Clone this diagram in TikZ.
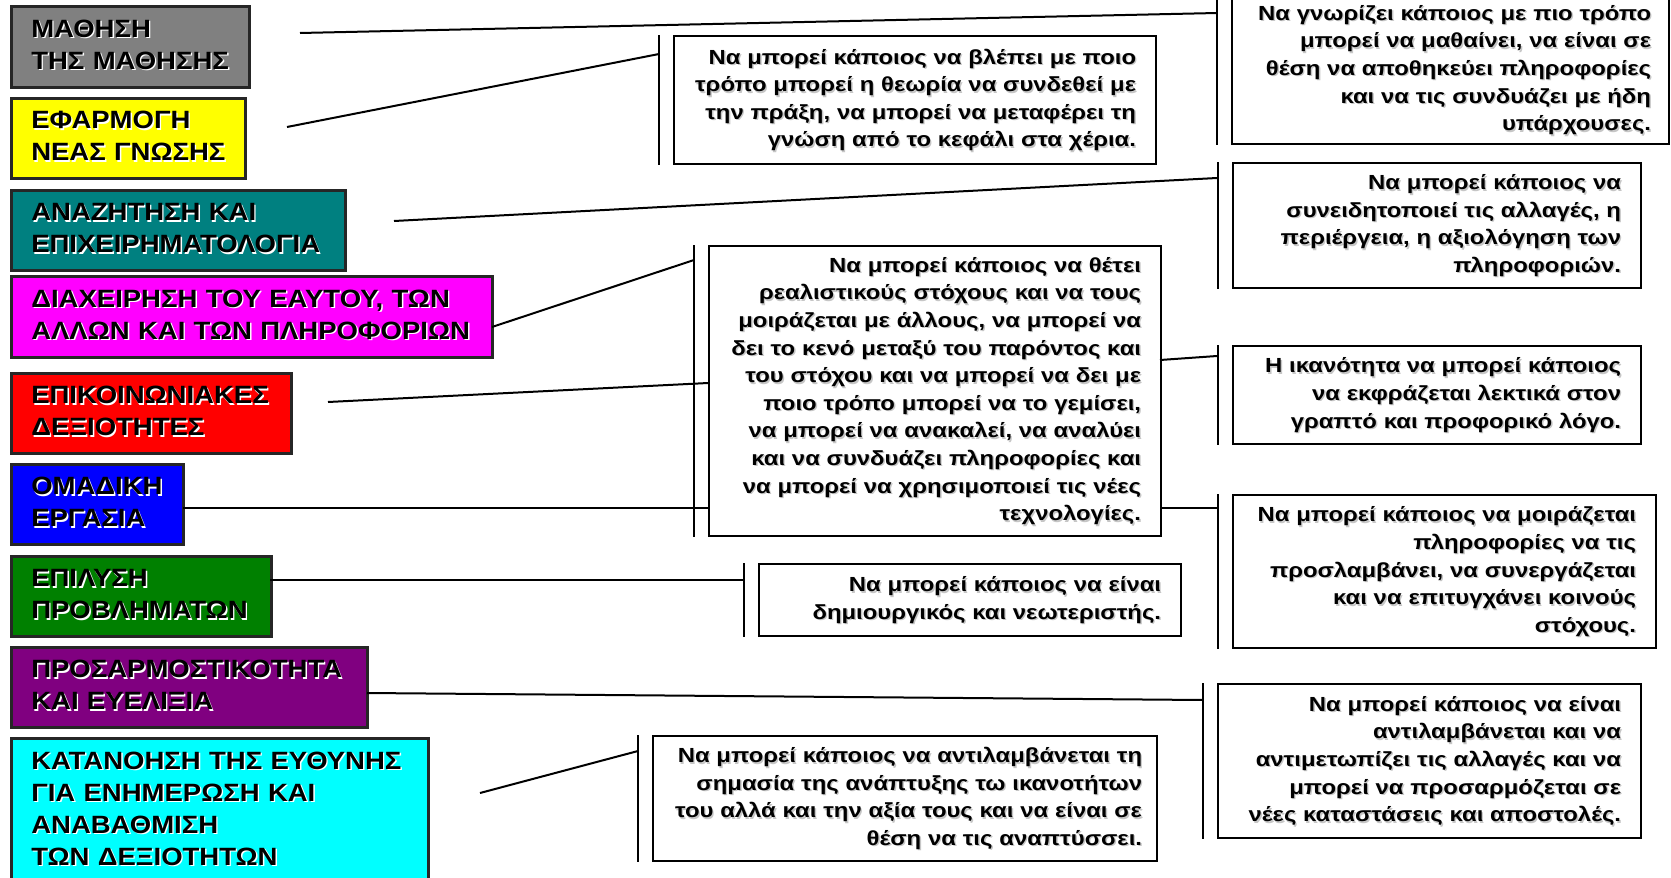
\documentclass[tikz,border=0pt]{standalone}
\usepackage{fontspec}
\setmainfont{Liberation Sans}[BoldFont={Liberation Sans Bold}]
\newfontfamily\titlefont{Liberation Sans}[BoldFont={Liberation Sans Bold},FakeStretch=1.1]
\newfontfamily\descrfont{Liberation Sans}[BoldFont={Liberation Sans Bold},FakeStretch=1.17]
\definecolor{boxgray}{HTML}{808080}
\definecolor{boxyellow}{HTML}{FFFF00}
\definecolor{boxteal}{HTML}{008080}
\definecolor{boxmagenta}{HTML}{FF00FF}
\definecolor{boxred}{HTML}{FF0000}
\definecolor{boxblue}{HTML}{0000FF}
\definecolor{boxgreen}{HTML}{008000}
\definecolor{boxpurple}{HTML}{800080}
\definecolor{boxcyan}{HTML}{00FFFF}
% text with a small offset shadow: #1 column type, #2 shadow colour, #3 lines
\newcommand{\shtxt}[3]{\makebox[0pt][l]{\raisebox{-0.7pt}[0pt][0pt]{\hspace{0.7pt}\textcolor{#2}{\begin{tabular}[b]{@{}#1@{}}#3\end{tabular}}}}\begin{tabular}[b]{@{}#1@{}}#3\end{tabular}}

\begin{document}
\begin{tikzpicture}[x=0.5pt,y=-0.5pt,
	title/.style={draw=black!85,line width=1.3pt,anchor=north west,align=left,inner xsep=10pt,inner ysep=0pt,font=\titlefont\fontsize{12.5}{16}\selectfont\bfseries},
	descr/.style={draw,line width=1pt,fill=white,anchor=north west,align=right,inner xsep=10pt,inner ysep=0pt,font=\descrfont\fontsize{10.2}{13.8}\selectfont\bfseries},
	link/.style={line width=1pt},
	brk/.style={line width=1.4pt}]
			%%%%% START %%%%%
			\useasboundingbox (0,0) rectangle (1671,878);
			\clip (0,0) rectangle (1671,878);
			
			% left column
			\node[title,fill=boxgray,text width=99pt,minimum height=40.5pt] (mathisi) at (10,5) {\shtxt{l}{white}{ΜΑΘΗΣΗ\\ΤΗΣ ΜΑΘΗΣΗΣ}};
			\node[title,fill=boxyellow,text width=97pt,minimum height=40pt] (efarmogi) at (10,97) {\shtxt{l}{white}{ΕΦΑΡΜΟΓΗ\\ΝΕΑΣ ΓΝΩΣΗΣ}};
			\node[title,fill=boxteal,text width=147pt,minimum height=40pt] (anazitisi) at (10,189) {\shtxt{l}{white}{ΑΝΑΖΗΤΗΣΗ ΚΑΙ\\ΕΠΙΧΕΙΡΗΜΑΤΟΛΟΓΙΑ}};
			\node[title,fill=boxmagenta,text width=220.5pt,minimum height=40.5pt] (diaxeirisi) at (10,275) {\shtxt{l}{white}{ΔΙΑΧΕΙΡΗΣΗ ΤΟΥ ΕΑΥΤΟΥ, ΤΩΝ\\ΑΛΛΩΝ ΚΑΙ ΤΩΝ ΠΛΗΡΟΦΟΡΙΩΝ}};
			\node[title,fill=boxred,text width=120pt,minimum height=40pt] (epikoin) at (10,372) {\shtxt{l}{white}{ΕΠΙΚΟΙΝΩΝΙΑΚΕΣ\\ΔΕΞΙΟΤΗΤΕΣ}};
			\node[title,fill=boxblue,text width=66pt,minimum height=40pt] (omadiki) at (10,463) {\shtxt{l}{white}{ΟΜΑΔΙΚΗ\\ΕΡΓΑΣΙΑ}};
			\node[title,fill=boxgreen,text width=110pt,minimum height=40pt] (epilysi) at (10,555) {\shtxt{l}{white}{ΕΠΙΛΥΣΗ\\ΠΡΟΒΛΗΜΑΤΩΝ}};
			\node[title,fill=boxpurple,text width=158pt,minimum height=40pt] (prosarm) at (10,646) {\shtxt{l}{white}{ΠΡΟΣΑΡΜΟΣΤΙΚΟΤΗΤΑ\\ΚΑΙ ΕΥΕΛΙΞΙΑ}};
			\node[title,fill=boxcyan,text width=188.5pt,minimum height=72.5pt] (katanoisi) at (10,737) {\shtxt{l}{white}{ΚΑΤΑΝΟΗΣΗ ΤΗΣ ΕΥΘΥΝΗΣ\\ΓΙΑ ΕΝΗΜΕΡΩΣΗ ΚΑΙ\\ΑΝΑΒΑΘΜΙΣΗ\\ΤΩΝ ΔΕΞΙΟΤΗΤΩΝ}};
			
			% descriptions
			\node[descr,inner xsep=9pt,text width=200.5pt,minimum height=74pt] (gnorizei) at (1231,-5) {\shtxt{r}{gray!45}{Να γνωρίζει κάποιος με πιο τρόπο\\μπορεί να μαθαίνει, να είναι σε\\θέση να αποθηκεύει πληροφορίες\\και να τις συνδυάζει με ήδη\\υπάρχουσες.}};
			\node[descr,text width=221pt,minimum height=64pt] (vlepei) at (673,35) {\shtxt{r}{gray!45}{Να μπορεί κάποιος να βλέπει με ποιο\\τρόπο μπορεί η θεωρία να συνδεθεί με\\την πράξη, να μπορεί να μεταφέρει τη\\γνώση από το κεφάλι στα χέρια.}};
			\node[descr,text width=184pt,minimum height=62.5pt] (syneid) at (1232,162) {\shtxt{r}{gray!45}{Να μπορεί κάποιος να\\συνειδητοποιεί τις αλλαγές, η\\περιέργεια, η αξιολόγηση των\\πληροφοριών.}};
			\node[descr,text width=206pt,minimum height=145pt] (stoxoi) at (708,245) {\shtxt{r}{gray!45}{Να μπορεί κάποιος να θέτει\\ρεαλιστικούς στόχους και να τους\\μοιράζεται με άλλους, να μπορεί να\\δει το κενό μεταξύ του παρόντος και\\του στόχου και να μπορεί να δει με\\ποιο τρόπο μπορεί να το γεμίσει,\\να μπορεί να ανακαλεί, να αναλύει\\και να συνδυάζει πληροφορίες και\\να μπορεί να χρησιμοποιεί τις νέες\\τεχνολογίες.}};
			\node[descr,text width=184pt,minimum height=49pt] (ekfrasi) at (1232,345) {\shtxt{r}{gray!45}{Η ικανότητα να μπορεί κάποιος\\να εκφράζεται λεκτικά στον\\γραπτό και προφορικό λόγο.}};
			\node[descr,text width=191.5pt,minimum height=76.5pt] (moiraz) at (1232,494) {\shtxt{r}{gray!45}{Να μπορεί κάποιος να μοιράζεται\\πληροφορίες να τις\\προσλαμβάνει, να συνεργάζεται\\και να επιτυγχάνει κοινούς\\στόχους.}};
			\node[descr,text width=191pt,minimum height=36pt] (dimiourg) at (758,563) {\shtxt{r}{gray!45}{Να μπορεί κάποιος να είναι\\δημιουργικός και νεωτεριστής.}};
			\node[descr,text width=191.5pt,minimum height=77pt] (allages) at (1217,683) {\shtxt{r}{gray!45}{Να μπορεί κάποιος να είναι\\αντιλαμβάνεται και να\\αντιμετωπίζει τις αλλαγές και να\\μπορεί να προσαρμόζεται σε\\νέες καταστάσεις και αποστολές.}};
			\node[descr,inner xsep=11pt,text width=230pt,minimum height=62.5pt] (simasia) at (652,735) {\shtxt{r}{gray!45}{Να μπορεί κάποιος να αντιλαμβάνεται τη\\σημασία της ανάπτυξης τω ικανοτήτων\\του αλλά και την αξία τους και να είναι σε\\θέση να τις αναπτύσσει.}};
			
			% brackets in front of the descriptions
			\foreach \b in {gnorizei,vlepei,syneid,stoxoi,ekfrasi,moiraz,dimiourg,allages,simasia}
				\draw[brk] ([xshift=-7pt]\b.north west) -- ([xshift=-7pt]\b.south west);
			
			% connector ends
			\coordinate (mathisi-out) at (300,33);
			\coordinate (gnorizei-in) at (1217,13);
			\coordinate (efarmogi-out) at (287,127);
			\coordinate (vlepei-in) at (659,54);
			\coordinate (anazitisi-out) at (394,221);
			\coordinate (syneid-in) at (1217,178);
			\coordinate (diaxeirisi-out) at (492,327);
			\coordinate (stoxoi-in) at (694,260);
			\coordinate (epikoin-out) at (328,402);
			\coordinate (epikoin-in) at (708,383);
			\coordinate (ekfrasi-out) at (1160,360);
			\coordinate (ekfrasi-in) at (1217,356);
			\coordinate (omadiki-out) at (183,508);
			\coordinate (moiraz-in) at (1217,508);
			\coordinate (epilysi-out) at (270,580);
			\coordinate (dimiourg-in) at (743,580);
			\coordinate (prosarm-out) at (367,693);
			\coordinate (allages-in) at (1203,700);
			\coordinate (katanoisi-out) at (480,793);
			\coordinate (simasia-in) at (638,751);
			
			\draw[link] (mathisi-out) -- (gnorizei-in);
			\draw[link] (efarmogi-out) -- (vlepei-in);
			\draw[link] (anazitisi-out) -- (syneid-in);
			\draw[link] (diaxeirisi-out) -- (stoxoi-in);
			\draw[link] (epikoin-out) -- (epikoin-in);
			\draw[link] (ekfrasi-out) -- (ekfrasi-in);
			\draw[link] (omadiki-out) -- (omadiki-out -| stoxoi.west);
			\draw[link] (omadiki-out -| stoxoi.east) -- (moiraz-in);
			\draw[link] (epilysi-out) -- (dimiourg-in);
			\draw[link] (prosarm-out) -- (allages-in);
			\draw[link] (katanoisi-out) -- (simasia-in);
			%%%%% END %%%%%
		\end{tikzpicture}
\end{document}
